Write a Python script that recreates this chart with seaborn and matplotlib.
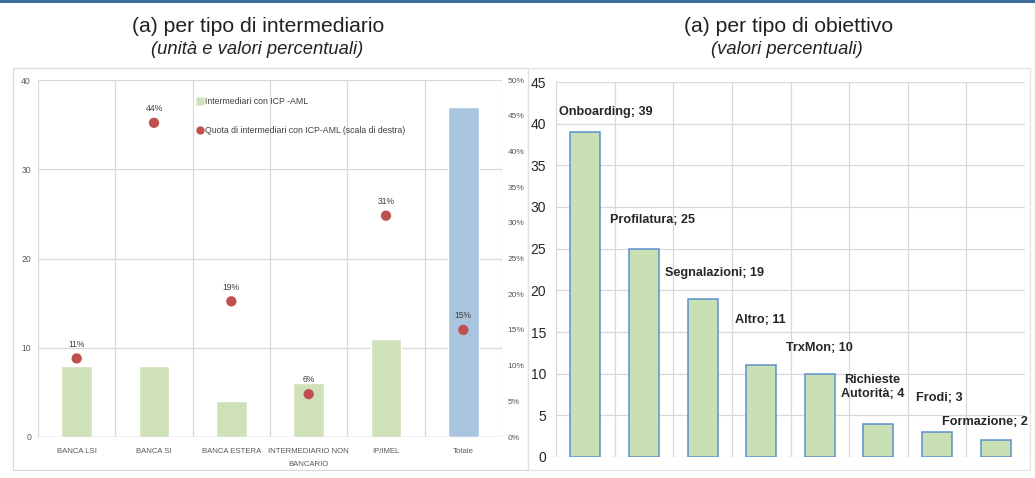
import numpy as np
import pandas as pd
import matplotlib
matplotlib.use("Agg")
import matplotlib.pyplot as plt
from matplotlib.lines import Line2D
from matplotlib.patches import Rectangle
import seaborn as sns

# ---------------- data ----------------
interm_categories = ["BANCA LSI", "BANCA SI", "BANCA ESTERA", "INTERMEDIARIO NON\nBANCARIO", "IP/IMEL", "Totale"]
interm_counts = [8, 8, 4, 6, 11, 37]
interm_share = [11, 44, 19, 6, 31, 15]
interm_share_labels = ["11%", "44%", "19%", "6%", "31%", "15%"]
left_yticks = [0, 10, 20, 30, 40]
right_yticks = [0, 5, 10, 15, 20, 25, 30, 35, 40, 45, 50]

obj_categories = ["Onboarding", "Profilatura", "Segnalazioni", "Altro", "TrxMon",
                  "Richieste\nAutorità", "Frodi", "Formazione"]
obj_values = [39, 25, 19, 11, 10, 4, 3, 2]
obj_yticks = [0, 5, 10, 15, 20, 25, 30, 35, 40, 45]

# label offsets (styling only)
obj_label_dx = [0.35, 0.15, 0.2, -0.02, 0.0, -0.1, 0.04, -0.18]
obj_label_dy = [2.4, 3.4, 3.1, 5.4, 3.1, 4.4, 4.1, 2.2]

sns.set_theme(style="white")
plt.rcParams["font.family"] = ["Liberation Sans", "DejaVu Sans"]

W, H = 1035, 478
fig = plt.figure(figsize=(W / 100, H / 100), dpi=100)
fig.patch.set_facecolor("white")

def fx(px):
    return px / W
def fy(py):
    return 1 - py / H

# top blue rule
fig.add_artist(Line2D([0, 1], [fy(1), fy(1)], color="#3b6e9a", lw=2.2, transform=fig.transFigure))

# outer frames
fig.add_artist(Rectangle((fx(13), fy(470)), fx(528 - 13), (470 - 68) / H, transform=fig.transFigure,
                         fill=False, edgecolor="#d9d9d9", lw=0.9))
fig.add_artist(Rectangle((fx(528), fy(470)), fx(1030 - 528), (470 - 68) / H, transform=fig.transFigure,
                         fill=False, edgecolor="#e3e3e3", lw=0.9))

# titles
fig.text(fx(258), fy(26), "(a) per tipo di intermediario", ha="center", va="center", fontsize=15.2,
         color="#222222")
fig.text(fx(257), fy(49), "(unità e valori percentuali)", ha="center", va="center", fontsize=13.2,
         style="italic", color="#222222")
fig.text(fx(789), fy(26), "(a) per tipo di obiettivo", ha="center", va="center", fontsize=15.2,
         color="#222222")
fig.text(fx(787), fy(49), "(valori percentuali)", ha="center", va="center", fontsize=13.2,
         style="italic", color="#222222")

grid_c = "#d9d9d9"
tick_c = "#595959"

# ---------------- left chart ----------------
axL = fig.add_axes([fx(38), fy(437), fx(502 - 38), (437 - 80) / H])
dfL = pd.DataFrame({"cat": interm_categories, "n": interm_counts})
green = "#cfe1b9"
blue = "#a9c4de"
pal = {c: (blue if c == "Totale" else green) for c in interm_categories}
sns.barplot(data=dfL, x="cat", y="n", hue="cat", palette=pal, legend=False, width=0.4,
            saturation=1, ax=axL, zorder=3)
axL.set_ylim(0, 40)
axL.set_xlim(-0.5, len(interm_categories) - 0.5)
axL.set_yticks(left_yticks)
axL.set_yticklabels([str(t) for t in left_yticks], fontsize=6.2, color=tick_c)
axL.set_xticks(range(len(interm_categories)))
axL.set_xticklabels(interm_categories, fontsize=5.6, color=tick_c, linespacing=2.2)
axL.set_xticks(np.arange(-0.5, len(interm_categories), 1), minor=True)
axL.tick_params(axis="both", length=0)
axL.tick_params(axis="x", pad=8)
axL.tick_params(axis="y", pad=5)
axL.tick_params(axis="x", which="minor", length=0)
axL.grid(axis="y", color=grid_c, lw=0.9, zorder=0)
axL.grid(axis="x", which="minor", color=grid_c, lw=0.9, zorder=0)
axL.grid(axis="x", which="major", visible=False)
axL.set_xlabel("")
axL.set_ylabel("")
for s in axL.spines.values():
    s.set_visible(False)
axL.axhline(0, color="#d0d0d0", lw=1, zorder=4)

axR = axL.twinx()
dfP = pd.DataFrame({"cat": interm_categories, "p": interm_share})
sns.scatterplot(data=dfP, x="cat", y="p", color="#c0504d", s=55, edgecolor="none", ax=axR, zorder=5)
axR.set_ylim(0, 50)
axR.set_yticks(right_yticks)
axR.set_yticklabels([f"{t}%" for t in right_yticks], fontsize=6.0, color=tick_c)
axR.tick_params(axis="y", length=0, pad=4)
axR.set_ylabel("")
axR.set_xlim(-0.5, len(interm_categories) - 0.5)
for s in axR.spines.values():
    s.set_visible(False)
for i, (p, lab) in enumerate(zip(interm_share, interm_share_labels)):
    axR.text(i, p + 2.0, lab, ha="center", va="center", fontsize=6.2, color="#404040")

handles = [Line2D([0], [0], marker="s", color="none", markerfacecolor=green, markeredgecolor="none", markersize=6),
           Line2D([0], [0], marker="o", color="none", markerfacecolor="#c0504d", markeredgecolor="none", markersize=6)]
axR.legend(handles, ["Intermediari con ICP -AML", "Quota di intermediari con ICP-AML (scala di destra)"],
           loc="upper left", bbox_to_anchor=(0.322, 0.975), frameon=False, fontsize=6.3,
           handletextpad=0.1, labelspacing=2.3, handlelength=1.0, labelcolor="#404040")

# ---------------- right chart ----------------
ax2 = fig.add_axes([fx(556), fy(457), fx(1025 - 556), (457 - 82) / H])
dfO = pd.DataFrame({"cat": obj_categories, "v": obj_values})
sns.barplot(data=dfO, x="cat", y="v", color="#c9dfb4", saturation=1, width=0.51,
            edgecolor="#5b8fcf", linewidth=1.1, ax=ax2, zorder=3)
ax2.set_ylim(0, 45)
ax2.set_xlim(-0.5, len(obj_categories) - 0.5)
ax2.set_yticks(obj_yticks)
ax2.set_yticklabels([str(t) for t in obj_yticks], fontsize=10, color="#262626")
ax2.set_xticks([])
ax2.set_xticks(np.arange(-0.5, len(obj_categories), 1), minor=True)
ax2.tick_params(axis="both", which="both", length=0)
ax2.tick_params(axis="y", pad=7)
ax2.grid(axis="y", color=grid_c, lw=0.9, zorder=0)
ax2.grid(axis="x", which="minor", color=grid_c, lw=0.9, zorder=0)
ax2.set_xlabel("")
ax2.set_ylabel("")
for s in ax2.spines.values():
    s.set_visible(False)
for i, (c, v) in enumerate(zip(obj_categories, obj_values)):
    ax2.text(i + obj_label_dx[i], v + obj_label_dy[i], f"{c}; {v}", ha="center", va="center",
             fontsize=9.1, fontweight="bold", color="#262626", linespacing=1.3)

fig.savefig("out.png", dpi=100, facecolor="white")
